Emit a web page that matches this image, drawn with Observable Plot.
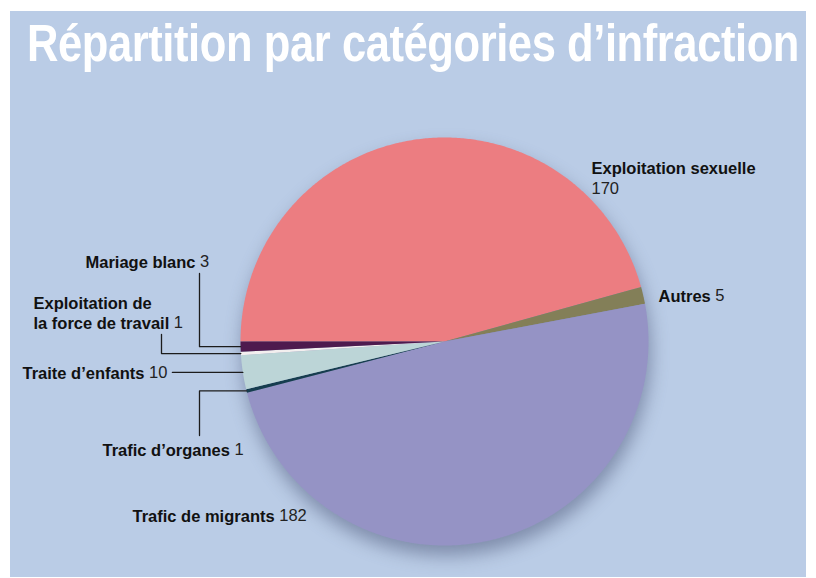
<!DOCTYPE html>
<html><head><meta charset="utf-8">
<script src="https://cdn.jsdelivr.net/npm/d3@7"></script>
<script src="https://cdn.jsdelivr.net/npm/@observablehq/plot@0.6"></script>
<style>
html,body{margin:0;padding:0;background:#fff;}
#page{position:relative;width:816px;height:578px;overflow:hidden;background:#fff;}
#panel{position:absolute;left:10px;top:11px;width:796px;height:566px;background:#bacce6;overflow:hidden;}
#title{position:absolute;left:17px;top:7px;margin:0;font:bold 51px/51px "Liberation Sans",Arial,Helvetica,sans-serif;color:#fff;white-space:nowrap;transform-origin:0 0;letter-spacing:-0.5px;}
#chart{position:absolute;left:0;top:80px;}
</style></head><body>
<div id="page"><div id="panel"><div id="title"><span id="ttext">Répartition par catégories d’infraction</span></div><div id="chart"></div></div></div>
<script>
// ---- data ----
const categories = ["Exploitation sexuelle", "Autres", "Trafic de migrants", "Trafic d’organes", "Traite d’enfants", "Exploitation de la force de travail", "Mariage blanc"];
const values = [170, 5, 182, 1, 10, 1, 3];
const labelLines = [["Exploitation sexuelle"], ["Autres"], ["Trafic de migrants"], ["Trafic d’organes"], ["Traite d’enfants"], ["Exploitation de", "la force de travail"], ["Mariage blanc"]];

// ---- styles / layout ----
const colors = ["#ec7d81", "#837f58", "#9593c5", "#163d4f", "#bcd5d7", "#f3efef", "#4e1a4e"];
const W = 796, H = 486, CX = 434, CY = 250, R = 204;   // chart frame (svg px)
const OX = 10, OY = 91;                                 // svg origin on page
const FS = 16.5, LH = 1.2;
const FONT = '"Liberation Sans", Arial, Helvetica, sans-serif';
// label placement (page px); y === null -> follow slice mid-angle
const layout = {
  "Exploitation sexuelle": {x: 591, y: 167, valueBelow: 21},
  "Autres": {x: 658, y: null},
  "Trafic de migrants": {x: 132, y: 515},
  "Trafic d’organes": {x: 102, y: 449, leader: {type: "up", x: 199}},
  "Traite d’enfants": {x: 22, y: null, leader: {type: "flat"}},
  "Exploitation de la force de travail": {x: 33, y: 302, leader: {type: "down", x: 161}},
  "Mariage blanc": {x: 85, y: 261, leader: {type: "down", x: 199}}
};

const toU = px => (px - OX - CX) / R;
const toV = py => (py - OY - CY) / R;

const ctx = document.createElement("canvas").getContext("2d");
function tw(s, weight) { ctx.font = `${weight} ${FS}px ${FONT}`; return ctx.measureText(s).width; }

// ---- slices ----
const arcs = d3.pie().sort(null).startAngle(-Math.PI / 2).endAngle(3 * Math.PI / 2)(values);
const pt = a => [Math.sin(a), -Math.cos(a)];
const slices = arcs.map((a, i) => {
  const n = Math.max(2, Math.ceil((a.endAngle - a.startAngle) / (Math.PI / 360)));
  const ring = [[0, 0]];
  for (let k = 0; k <= n; k++) ring.push(pt(a.startAngle + (a.endAngle - a.startAngle) * k / n));
  ring.push([0, 0]);
  return {category: categories[i], value: values[i], mid: (a.startAngle + a.endAngle) / 2,
          geometry: {type: "Polygon", coordinates: [ring]}};
});

// ---- labels & leaders ----
const names = [], nums = [], leaders = [];
slices.forEach((s, i) => {
  const L = layout[s.category];
  const lines = labelLines[i];
  const edge = pt(s.mid);
  const firstY = L.y === null ? OY + CY + edge[1] * R : L.y;
  const lastY = firstY + (lines.length - 1) * FS * LH;
  const centerY = (firstY + lastY) / 2;
  names.push({x: toU(L.x), y: toV(centerY), text: lines.join("\n")});
  let vx, vy;
  if (L.valueBelow) { vx = L.x; vy = firstY + L.valueBelow; }
  else { vx = L.x + tw(lines[lines.length - 1], "bold") + tw(" ", "normal"); vy = lastY; }
  nums.push({x: toU(vx), y: toV(vy), text: String(s.value)});
  if (L.leader) {
    const ld = L.leader;
    let coords;
    if (ld.type === "flat") {
      const sx = vx + tw(String(s.value), "normal") + 5;
      coords = [[toU(sx), edge[1]], edge];
    } else if (ld.type === "down") {
      coords = [[toU(ld.x), toV(lastY + 12)], [toU(ld.x), edge[1]], edge];
    } else {
      coords = [[toU(ld.x), toV(firstY - 14)], [toU(ld.x), edge[1]], edge];
    }
    leaders.push({category: s.category, geometry: {type: "LineString", coordinates: coords}});
  }
});

const chart = Plot.plot({
  width: W, height: H,
  marginLeft: CX - R, marginRight: W - CX - R, marginTop: CY - R, marginBottom: H - CY - R,
  projection: {type: "identity", domain: {type: "MultiPoint", coordinates: [[-1, -1], [1, 1]]}, inset: 0, clip: false},
  color: {domain: categories, range: colors},
  style: {background: "transparent", fontFamily: FONT, overflow: "visible"},
  marks: [
    Plot.geo(slices, {geometry: "geometry", fill: "category", stroke: "none"}),
    Plot.geo(leaders, {geometry: "geometry", stroke: "#1c1c1c", strokeWidth: 1.3, fill: "none"}),
    Plot.text(names, {x: "x", y: "y", text: "text", textAnchor: "start", fontWeight: "bold", fontSize: FS, lineHeight: LH, fill: "#111"}),
    Plot.text(nums, {x: "x", y: "y", text: "text", textAnchor: "start", fontWeight: "normal", fontSize: FS, fill: "#222"})
  ]
});
document.getElementById("chart").appendChild(chart);
const g = chart.querySelector('g[aria-label="geo"]');
if (g) g.style.filter = "drop-shadow(2px 10px 9px rgba(55,65,100,0.45))";

// fit title width
const t = document.getElementById("ttext");
const w = t.getBoundingClientRect().width;
document.getElementById("title").style.transform = `scaleX(${772 / w})`;
</script>
</body></html>
